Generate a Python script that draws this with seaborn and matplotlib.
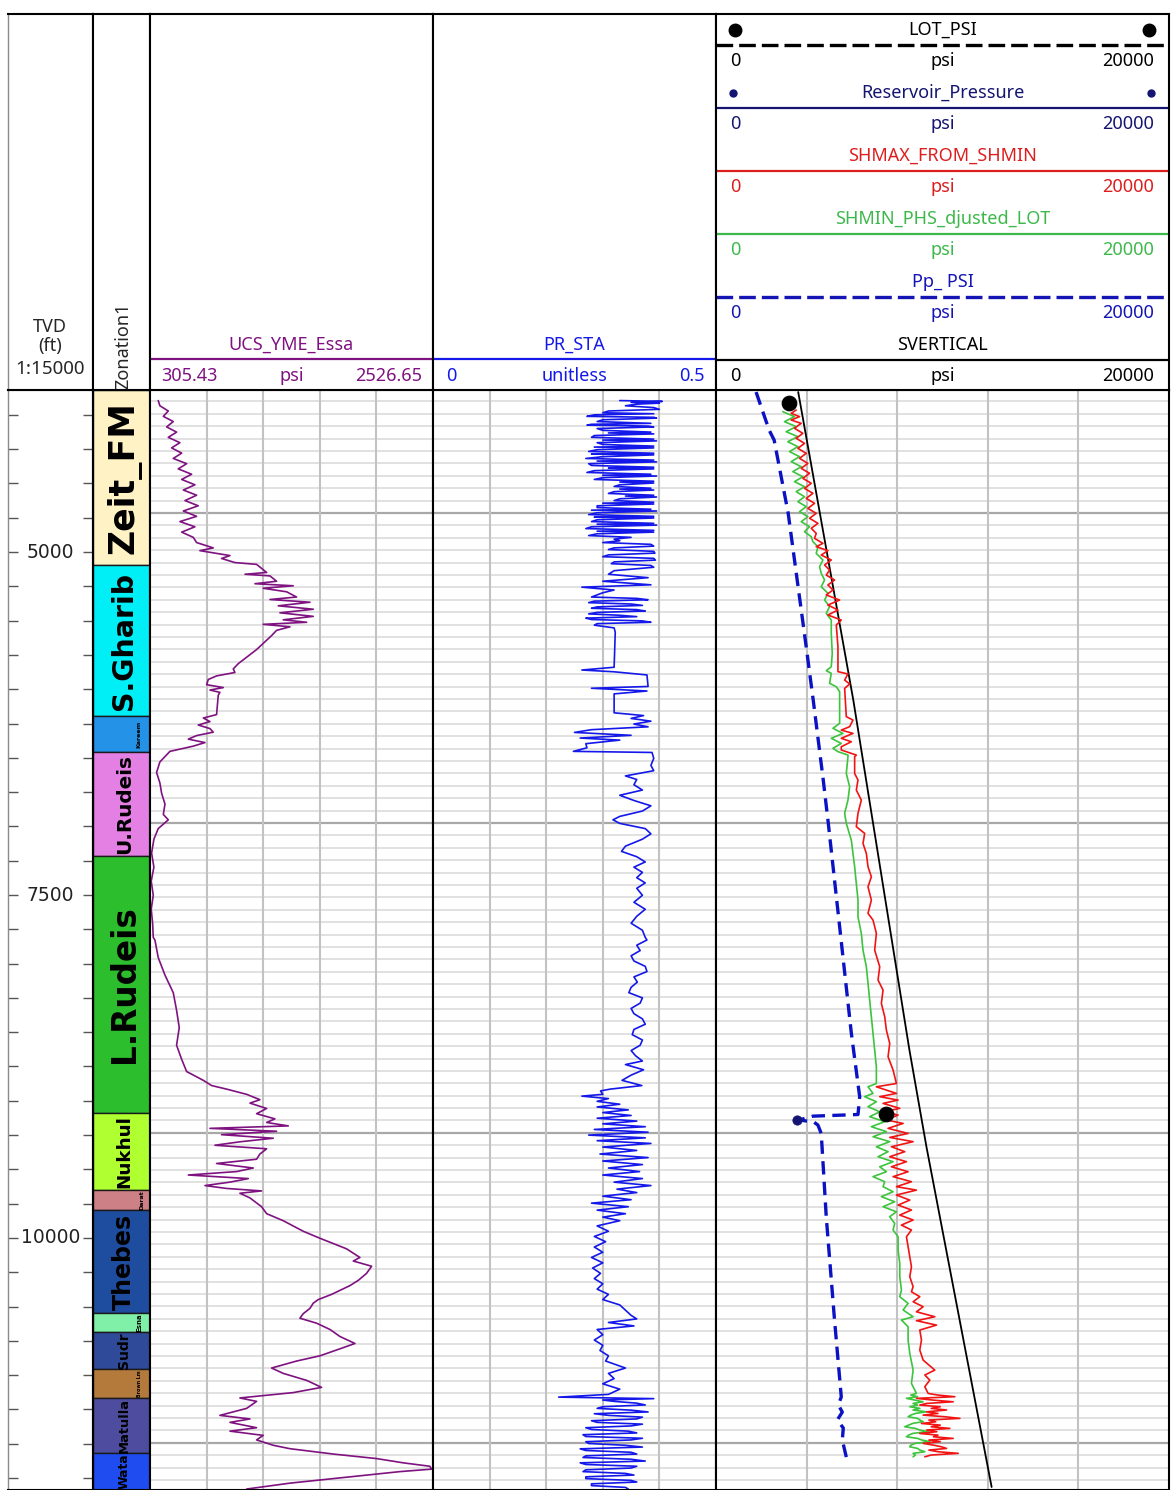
import numpy as np
import pandas as pd
import matplotlib
matplotlib.use("Agg")
import matplotlib.pyplot as plt
import seaborn as sns

# ---------------- data ----------------
DEPTH_TOP, DEPTH_BOT = 3819, 11837
depth_labels = [5000, 7500, 10000]

zone_names = ["Zeit_FM", "S.Gharib", "Kareem", "U.Rudeis", "L.Rudeis", "Nukhul", "Darat",
              "Thebes", "Esna", "Sudr", "Brown Lm", "Matulla", "Wata"]
zone_tops = [3819, 5095, 6195, 6458, 7216, 9089, 9650, 9796, 10547, 10685, 10955, 11166, 11567]
zone_colors = ["#FFF3C6", "#00EEF6", "#2492E6", "#E47FE4", "#2DBE2D", "#B0FF30", "#CD8085",
               "#1E4DA0", "#80F0A8", "#2F4A99", "#B47A3C", "#4E4C9E", "#1E4CF0"]

ucs_depth = [3896, 3934, 3972, 4011, 4049, 4088, 4126, 4164, 4203, 4241,
             4279, 4318, 4356, 4394, 4433, 4471, 4510, 4548, 4586, 4625,
             4663, 4701, 4740, 4778, 4816, 4855, 4893, 4931, 4970, 4990,
             5008, 5026, 5047, 5077, 5090, 5149, 5162, 5174, 5213, 5231,
             5246, 5264, 5290, 5328, 5346, 5366, 5392, 5417, 5443, 5469,
             5494, 5512, 5527, 5545, 5571, 5609, 5711, 5814, 5852, 5878,
             5903, 5929, 5967, 5988, 6006, 6023, 6044, 6185, 6210, 6236,
             6261, 6287, 6313, 6338, 6364, 6389, 6415, 6453, 6530, 6607,
             6683, 6760, 6837, 6913, 6952, 7016, 7093, 7195, 7297, 7399,
             7502, 7604, 7706, 7809,
             7828, 7956, 8084, 8212, 8340, 8467, 8595, 8698, 8787, 8851,
             8889, 8915, 8953, 8992, 9017, 9056, 9094, 9132, 9158, 9183,
             9201, 9222, 9247, 9273, 9299, 9324, 9350, 9388, 9426, 9457,
             9490, 9516, 9541, 9567, 9593, 9618, 9639, 9657, 9674, 9708,
             9772, 9823, 9874, 9951, 10002, 10079, 10142, 10168, 10206, 10258,
             10309, 10347, 10411, 10449, 10475, 10513, 10552, 10585, 10621, 10667,
             10718, 10769, 10808, 10859, 10897, 10948, 10987, 11038, 11089, 11127,
             11166, 11191, 11242, 11293, 11319, 11344, 11383, 11408, 11439, 11472,
             11511, 11536, 11575, 11608, 11639, 11664, 11685, 11703, 11741, 11787,
             11830]
ucs_psi = [370, 383, 449, 410, 488, 436, 514, 449, 540, 475,
           554, 488, 593, 527, 632, 554, 658, 567, 671, 580,
           684, 567, 671, 540, 658, 554, 645, 671, 802, 697,
           815, 933, 867, 972, 1142, 1221, 1051, 1247, 1299, 1129,
           1430, 1194, 1378, 1456, 1247, 1561, 1312, 1587, 1325, 1587,
           1351, 1535, 1194, 1404, 1299, 1260, 1142, 998, 959, 972,
           828, 763, 750, 881, 776, 854, 841, 828, 724, 776,
           684, 776, 802, 671, 606, 737, 645, 462, 383, 357,
           383, 397, 423, 410, 449, 370, 336, 318, 336, 315,
           331, 315, 326, 331,
           344, 370, 423, 488, 514, 535, 514, 554, 593, 724,
           789, 907, 1064, 1168, 1090, 1221, 1142, 1286, 1221, 1391,
           776, 1299, 867, 1273, 1011, 815, 1221, 1168, 1142, 828,
           1116, 985, 606, 1077, 933, 737, 907, 1181, 1011, 1090,
           1181, 1221, 1351, 1508, 1639, 1848, 1953, 1901, 2045, 2005,
           1940, 1875, 1731, 1626, 1587, 1561, 1508, 1482, 1613, 1718,
           1796, 1914, 1796, 1639, 1456, 1260, 1351, 1535, 1652, 1430,
           1011, 1142, 1064, 854, 1090, 933, 1142, 933, 1194, 1142,
           1273, 1404, 1744, 2084, 2293, 2502, 2515, 2267, 1875, 1404,
           1064]

# Poisson's ratio, upper dense section (Zeit_FM)
pr_depth_top = [3896, 3902, 3909, 3915, 3922, 3934, 3947, 3960, 3972, 3985,
                3992, 4000, 4011, 4018, 4024, 4036, 4049, 4062, 4069, 4075,
                4082, 4088, 4100, 4113, 4126, 4132, 4139, 4151, 4164, 4177,
                4184, 4190, 4203, 4216, 4228, 4235, 4241, 4254, 4267, 4280,
                4286, 4292, 4305, 4318, 4330, 4337, 4343, 4356, 4369, 4382,
                4388, 4394, 4407, 4420, 4433, 4440, 4446, 4458, 4471, 4484,
                4490, 4497, 4510, 4522, 4535, 4541, 4548, 4560, 4573, 4586,
                4592, 4599, 4612, 4625, 4637, 4644, 4650, 4663, 4676, 4688,
                4695, 4701, 4714, 4727, 4740, 4746, 4752, 4765, 4778, 4791,
                4797, 4804, 4816, 4829, 4842, 4848, 4855, 4867, 4880, 4893,
                4906, 4918, 4931, 4944, 4957, 4970, 4982, 4995, 5008, 5021,
                5034, 5046, 5059, 5072, 5085, 5098, 5111]
pr_val_top = [.33, .405, .35, .40, .36, .34, .39, .40, .31, .30,
              .39, .285, .272, .39, .395, .30, .29, .385, .28, .272,
              .38, .39, .29, .30, .385, .31, .39, .285, .28, .39,
              .30, .395, .29, .30, .39, .285, .39, .29, .275, .39,
              .28, .39, .30, .27, .39, .29, .395, .275, .28, .39,
              .31, .39, .285, .272, .385, .30, .395, .30, .285, .39,
              .33, .39, .33, .32, .385, .33, .39, .32, .31, .39,
              .34, .395, .33, .32, .39, .30, .39, .29, .29, .385,
              .28, .395, .29, .275, .39, .285, .39, .29, .28, .39,
              .29, .395, .28, .27, .39, .29, .39, .29, .275, .35,
              .32, .33, .30, .385, .39, .32, .31, .39, .392, .31,
              .30, .39, .393, .32, .315, .385, .39]
# Poisson's ratio, middle section (S.Gharib to L.Rudeis)
pr_depth_mid = [5136, 5162, 5187, 5213, 5239, 5256, 5277, 5297, 5328, 5338,
                5348, 5358, 5369, 5379, 5389, 5400, 5410, 5420, 5430, 5440,
                5451, 5461, 5471, 5482, 5492, 5502, 5512, 5522, 5533, 5553,
                5584, 5840, 5860, 5873, 5896, 5980, 5993, 6013, 6034, 6172,
                6192, 6213, 6233, 6254, 6274, 6295, 6315, 6336, 6356, 6371,
                6397, 6427, 6453, 6461, 6504, 6555, 6594, 6632, 6658, 6696,
                6735, 6773, 6811, 6850, 6888, 6927, 6952, 6978, 7016, 7054,
                7093, 7144, 7182, 7221, 7259, 7297, 7335, 7374, 7412, 7451,
                7502, 7553, 7604, 7655, 7706, 7757, 7809,
                7828, 7866, 7905, 7943, 7981, 8020, 8058, 8097, 8135, 8173,
                8212, 8250, 8288, 8327, 8365, 8403, 8442, 8480, 8518, 8557,
                8595, 8634, 8672, 8710, 8736, 8774, 8813, 8851, 8889, 8915,
                8928, 8953, 8966, 8984, 9004, 9025, 9045, 9066, 9086, 9107,
                9127, 9148, 9168, 9189, 9209, 9229, 9250, 9270, 9291, 9311,
                9337, 9362, 9388, 9414, 9439, 9465, 9490, 9516, 9541, 9567,
                9593, 9618, 9644, 9669, 9695, 9721, 9746, 9772, 9797, 9823,
                9848, 9874, 9912, 9951, 9989, 10027, 10066, 10104, 10142, 10181,
                10219, 10258, 10296, 10334, 10373, 10411, 10449, 10488, 10526, 10564,
                10590, 10616, 10641, 10667, 10705, 10744, 10782, 10820, 10859, 10897,
                10948, 10987, 11025, 11063, 11102, 11140, 11160]
pr_val_mid = [.32, .31, .38, .30, .385, .263, .32, .30, .28, .36,
              .38, .285, .275, .35, .37, .29, .28, .36, .375, .29,
              .275, .33, .36, .27, .28, .37, .385, .29, .285, .32,
              .322, .32, .263, .32, .378, .38, .28, .378, .32, .32,
              .372, .35, .385, .355, .38, .28, .25, .35, .26, .33,
              .27, .272, .248, .387, .39, .385, .39, .34, .36, .355,
              .37, .33, .355, .385, .37, .33, .318, .33, .375, .385,
              .37, .34, .333, .36, .375, .355, .37, .36, .375, .36,
              .37, .355, .375, .36, .35, .37, .375,
              .378, .360, .366, .350, .355, .375, .378, .355, .361, .350,
              .346, .370, .366, .350, .355, .370, .375, .355, .352, .370,
              .366, .350, .358, .370, .340, .372, .350, .334, .369, .313,
              .296, .300, .263, .310, .290, .330, .290, .345, .300, .350,
              .290, .360, .300, .375, .285, .380, .275, .375, .290, .385,
              .300, .360, .295, .380, .300, .370, .310, .365, .300, .370,
              .320, .385, .325, .360, .300, .350, .280, .345, .290, .340,
              .300, .330, .290, .310, .285, .305, .285, .300, .280, .300,
              .282, .296, .285, .300, .290, .310, .300, .330, .340, .350,
              .360, .310, .355, .290, .300, .285, .300, .295, .310, .305,
              .340, .310, .320, .300, .330, .310, .222]
# Poisson's ratio, lower dense section (Sudr to Wata)
pr_depth_bot = [11171, 11181, 11191, 11204, 11217, 11230, 11242, 11255, 11268, 11281,
                11293, 11306, 11319, 11332, 11344, 11357, 11370, 11383, 11396, 11408,
                11421, 11434, 11447, 11460, 11472, 11485, 11498, 11511, 11524, 11537,
                11549, 11562, 11575, 11588, 11600, 11613, 11626, 11639, 11651, 11664,
                11677, 11690, 11703, 11716, 11728, 11741, 11754, 11767, 11779, 11792,
                11805, 11818, 11830]
pr_val_bot = [.39, .30, .32, .36, .375, .30, .29, .35, .38, .285,
              .31, .37, .36, .28, .29, .37, .35, .27, .28, .345,
              .36, .265, .27, .37, .35, .27, .275, .34, .37, .26,
              .27, .35, .36, .27, .265, .35, .375, .26, .27, .36,
              .35, .27, .265, .34, .355, .27, .27, .35, .36, .28,
              .28, .34, .345]

sv_depth = [3834, 6079, 8630, 9337, 11815]
sv_psi = [3629, 6062, 8540, 9293, 12169]

pp_depth = [3834, 4111, 4184, 4716, 5692, 6079, 6662, 6975, 8506, 8970, 9100, 9112, 9140,
            9155, 9177, 9238, 9847, 10576, 11159, 11217, 11269, 11327, 11385, 11473, 11597]
pp_psi = [1770, 2345, 2567, 3186, 3983, 4292, 4735, 4956, 5974, 6343, 6270, 4280, 3680,
          4320, 4500, 4646, 4868, 5222, 5531, 5399, 5576, 5354, 5620, 5576, 5753]

shmax_depth = [3965, 3989, 4013, 4038, 4062, 4098, 4135, 4171, 4208, 4244,
               4281, 4317, 4354, 4390, 4426, 4463, 4499, 4536, 4572, 4609,
               4645, 4682, 4718, 4754, 4791, 4827, 4864, 4900, 4937, 4961,
               4990, 5022, 5058, 5095, 5131, 5168, 5204, 5240, 5277, 5313,
               5350, 5386, 5423, 5459, 5496, 5532, 5690, 5872, 5889, 5933,
               5962, 5994, 6200, 6225, 6273, 6298, 6322, 6358, 6383, 6419,
               6443, 6480, 6492, 6614, 6662, 6735, 6808, 6905, 7002, 7051,
               7124, 7197, 7294, 7367, 7440, 7537, 7634, 7683, 7780, 7902,
               8023, 8120, 8193, 8290, 8388, 8485, 8582, 8679, 8776, 8874,
               8898, 8946, 8970, 8995, 9019, 9055, 9080, 9104, 9140, 9165,
               9201, 9238, 9267, 9298, 9335, 9371, 9408, 9444, 9481, 9517,
               9553, 9590, 9626, 9651, 9687, 9724, 9760, 9796, 9833, 9869,
               9906, 9942, 9991, 10064, 10137, 10210, 10282, 10355, 10392, 10428,
               10465, 10501, 10538, 10574, 10603, 10635, 10671, 10744, 10817, 10890,
               10963, 10999, 11036, 11084]
shmax_psi = [3540, 3319, 3688, 3319, 3761, 3466, 3835, 3540, 3909, 3614,
             3983, 3688, 4056, 3761, 4130, 3835, 4204, 3909, 4278, 3983,
             4351, 4056, 4425, 4130, 4499, 4204, 4425, 4351, 4720, 4425,
             4941, 4646, 5089, 4794, 5015, 4868, 5236, 4941, 5163, 4868,
             5458, 4941, 5384, 4941, 5531, 5310, 5384, 5384, 5826, 5679,
             5900, 5679, 5753, 6048, 5900, 5531, 6048, 5531, 5974, 5531,
             5531, 6195, 6121, 6121, 6269, 6195, 6416, 6269, 6195, 6564,
             6490, 6638, 6711, 6859, 6711, 6859, 6711, 6933, 7080, 7006,
             7228, 7154, 7375, 7301, 7449, 7523, 7670, 7596, 7818, 7965,
             7080, 7965, 7228, 8039, 7375, 8113, 7449, 8039, 7523, 8260,
             7596, 8481, 7670, 8703, 7744, 8334, 7670, 8408, 7744, 8481,
             7818, 8629, 7965, 8850, 7965, 8555, 8039, 8629, 8113, 8703,
             8186, 8629, 8408, 8481, 8555, 8629, 8555, 8703, 8629, 8998,
             8703, 9145, 8850, 9661, 8850, 9735, 8998, 9071, 8998, 9145,
             9661, 9219, 9440, 9219]
shmax_depth_bot = [11133, 11145, 11157, 11169, 11182, 11194, 11206, 11218, 11230, 11242,
                   11254, 11267, 11279, 11291, 11303, 11315, 11327, 11340, 11352, 11364,
                   11376, 11388, 11400, 11412, 11425, 11437, 11449, 11461, 11473, 11485,
                   11497, 11510, 11522, 11534, 11546, 11558, 11570, 11582, 11595]
shmax_psi_bot = [9366, 9800, 10546, 8850, 9600, 10473, 9300, 8998, 9900, 9500,
                 10178, 9300, 9800, 9145, 10100, 10768, 9400, 9700, 9071, 9900,
                 9500, 10325, 9300, 9750, 8998, 9800, 9600, 10473, 9400, 9900,
                 9145, 9600, 9950, 10178, 9400, 9800, 10694, 9500, 9219]

shmin_depth = [3977, 4013, 4050, 4086, 4123, 4159, 4196, 4232, 4268, 4305,
               4341, 4378, 4414, 4451, 4487, 4524, 4560, 4597, 4633, 4669,
               4706, 4742, 4779, 4815, 4852, 4888, 4925, 4961, 5010, 5058,
               5107, 5155, 5204, 5253, 5301, 5350, 5398, 5447, 5496, 5593,
               5739, 5836, 5865, 5884, 5957, 5982, 6018, 6249, 6285, 6322,
               6358, 6395, 6431, 6455, 6480, 6492, 6614, 6711, 6808, 6905,
               6978, 7100, 7197, 7294, 7416, 7537, 7659, 7780, 7902, 8023,
               8145, 8266, 8388, 8509, 8631, 8752, 8874, 8898, 8946, 8970,
               9007, 9043, 9080, 9116, 9152, 9189, 9225, 9262, 9298, 9335,
               9371, 9408, 9444, 9481, 9517, 9553, 9590, 9626, 9663, 9699,
               9736, 9772, 9809, 9845, 9894, 9942, 9991, 10088, 10185, 10282,
               10380, 10428, 10477, 10525, 10574, 10598, 10647, 10744, 10841, 10963,
               11060]
shmin_psi = [2950, 3466, 3024, 3540, 3098, 3614, 3171, 3614, 3245, 3688,
             3319, 3761, 3393, 3835, 3466, 3909, 3540, 3909, 3614, 3983,
             3688, 4056, 3761, 4130, 3909, 4204, 4278, 4499, 4425, 4720,
             4573, 4646, 4794, 4646, 4941, 4794, 5015, 4868, 5089, 5089,
             5133, 5089, 4868, 5089, 5015, 5310, 5458, 5458, 5163, 5605,
             5089, 5531, 5163, 5384, 5826, 5826, 5753, 5900, 5826, 5679,
             5753, 5974, 6048, 6121, 6195, 6269, 6269, 6416, 6490, 6638,
             6711, 6785, 6859, 6933, 7006, 7080, 7080, 6711, 6933, 6564,
             7080, 6711, 7228, 6785, 7449, 6859, 7523, 6933, 7670, 7080,
             7596, 7154, 7818, 7228, 7523, 6933, 7449, 7375, 7818, 7301,
             7891, 7375, 7965, 7670, 7891, 7818, 8039, 8039, 8113, 8113,
             8186, 8113, 8481, 8260, 8703, 8186, 8481, 8481, 8555, 8703,
             8629]
shmin_depth_bot = [11133, 11145, 11157, 11169, 11182, 11194, 11206, 11218, 11230, 11242,
                   11254, 11267, 11279, 11291, 11303, 11315, 11327, 11339, 11351, 11364,
                   11376, 11388, 11400, 11412, 11424, 11437, 11449, 11461, 11473, 11485,
                   11497, 11510, 11522, 11534, 11546, 11558, 11570, 11582, 11595]
shmin_psi_bot = [8850, 8600, 8900, 8408, 8800, 9145, 8700, 8900, 8555, 9000,
                 8700, 9292, 8800, 8600, 8481, 8900, 9000, 9145, 8700, 8500,
                 8334, 8800, 9000, 9366, 8700, 8500, 8408, 8900, 9100, 9440,
                 8800, 8600, 8555, 8900, 9000, 9219, 8700, 8800, 8703]

lot_depth = [3914, 9096]
lot_psi = [3230, 7523]
res_depth = [9140]
res_psi = [3584]

UCS_RANGE = (305.43, 2526.65)
PR_RANGE = (0, 0.5)
P_RANGE = (0, 20000)

# ---------------- styling / layout ----------------
sns.set_theme(style="white")
plt.rcParams['font.family'] = ['Noto Sans', 'DejaVu Sans']

W, H = 1171, 1490
fig = plt.figure(figsize=(W / 100, H / 100), dpi=100)
fig.patch.set_facecolor('white')

TOP, MID, BOT = 14, 390, 1490
XB = [8, 93, 150, 433, 716, 1169]

C_UCS = '#7E1280'
C_PR = '#1418E8'
C_RED = '#F01414'
C_GREEN = '#3CC43C'
C_PP = '#0A12C4'
C_NAVY = '#141472'
HFS = 13


def frect(x0, y0, x1, y1):
    return [x0 / W, 1 - y1 / H, (x1 - x0) / W, (y1 - y0) / H]


grid_major = np.array([4716, 6975, 9235, 11494])
grid_step = (grid_major[1] - grid_major[0]) / 25
grid_minor = np.arange(grid_major[0] - 10 * grid_step, DEPTH_BOT, grid_step)


def style_data_ax(ax, xlim):
    ax.set_xlim(*xlim)
    ax.set_ylim(DEPTH_BOT, DEPTH_TOP)
    ax.set_xticks([]); ax.set_yticks([])
    ax.set_xlabel(''); ax.set_ylabel('')
    for d in grid_minor:
        ax.axhline(d, color='#DCDCDC', lw=1.2, zorder=0)
    for d in grid_major:
        ax.axhline(d, color='#A8A8A8', lw=1.6, zorder=0)
    for f in [0.2, 0.4, 0.6, 0.8]:
        ax.axvline(xlim[0] + f * (xlim[1] - xlim[0]), color='#C2C2C2', lw=1.5, zorder=0)
    for s in ax.spines.values():
        s.set_color('black'); s.set_linewidth(1.5)


def hdr_ax(x0, x1):
    ax = fig.add_axes(frect(x0, TOP, x1, MID))
    ax.set_xlim(x0, x1); ax.set_ylim(MID, TOP)
    ax.set_xticks([]); ax.set_yticks([])
    ax.set_facecolor('white')
    for s in ax.spines.values():
        s.set_color('black'); s.set_linewidth(1.5)
    return ax


def scale_row(ax, x0, x1, y, left, unit, right, color, lpad=14, rpad=14):
    ax.text(x0 + lpad, y, left, ha='left', va='center', fontsize=HFS, color=color)
    ax.text((x0 + x1) / 2, y, unit, ha='center', va='center', fontsize=HFS, color=color)
    ax.text(x1 - rpad, y, right, ha='right', va='center', fontsize=HFS, color=color)


def log_line(ax, xs, ys, color, lw):
    df = pd.DataFrame({'depth': ys, 'value': xs})
    sns.lineplot(data=df, x='value', y='depth', orient='y', sort=False, estimator=None,
                 ax=ax, color=color, linewidth=lw)
    return ax.lines[-1]


# ---------- depth track ----------
axd = fig.add_axes(frect(XB[0], MID, XB[1], BOT))
axd.set_ylim(DEPTH_BOT, DEPTH_TOP); axd.set_xlim(0, 1)
axd.set_xticks([])
axd.set_yticks(np.arange(4000, DEPTH_BOT, 250))
axd.tick_params(axis='y', left=True, right=True, direction='in', length=7, width=1,
                color='#555555', labelleft=False, labelright=False)
for d in depth_labels:
    axd.text(0.5, d, f"{d}", ha='center', va='center', fontsize=13.5,
             family='DejaVu Sans', color='#222222')
for k, s in axd.spines.items():
    s.set_color('black'); s.set_linewidth(1.5)
axd.spines['left'].set_color('#8A8A8A'); axd.spines['left'].set_linewidth(1.0)

h = hdr_ax(XB[0], XB[1])
h.spines['left'].set_color('#8A8A8A'); h.spines['left'].set_linewidth(1.0)
h.text(50, 327, "TVD", ha='center', va='center', fontsize=HFS)
h.text(50, 346, "(ft)", ha='center', va='center', fontsize=HFS)
h.text(50, 369, "1:15000", ha='center', va='center', fontsize=13.5, clip_on=True)

# ---------- zonation track ----------
axz = fig.add_axes(frect(XB[1], MID, XB[2], BOT))
zone_bots = zone_tops[1:] + [DEPTH_BOT]
mids = [(t + b) / 2 for t, b in zip(zone_tops, zone_bots)]
hts = [b - t for t, b in zip(zone_tops, zone_bots)]
axz.barh(y=mids, width=1, height=hts, left=0, color=zone_colors,
         edgecolor='#1a1a1a', linewidth=1.0)
axz.set_xlim(0, 1); axz.set_ylim(DEPTH_BOT, DEPTH_TOP)
axz.set_xticks([]); axz.set_yticks([])
for s in axz.spines.values():
    s.set_color('black'); s.set_linewidth(1.5)
label_size = [25, 20.4, 4.5, 14.4, 23.5, 13.2, 4.5, 17, 5, 10, 3.4, 9.4, 8.8]
label_x = [0.55, 0.55, 0.80, 0.55, 0.55, 0.55, 0.86, 0.55, 0.82, 0.55, 0.82, 0.55, 0.55]
for name, m, fs, lx in zip(zone_names, mids, label_size, label_x):
    axz.text(lx, m, name, rotation=90, ha='center', va='center', fontsize=fs,
             fontweight='bold', family='DejaVu Sans', color='black', clip_on=True)

h = hdr_ax(XB[1], XB[2])
h.text(123, 389, "Zonation1", rotation=90, ha='center', va='bottom', fontsize=HFS)

# ---------- UCS track ----------
axu = fig.add_axes(frect(XB[2], MID, XB[3], BOT))
log_line(axu, ucs_psi, ucs_depth, C_UCS, 1.2)
style_data_ax(axu, UCS_RANGE)

h = hdr_ax(XB[2], XB[3])
h.text((XB[2] + XB[3]) / 2, 345, "UCS_YME_Essa", ha='center', va='center', fontsize=HFS, color=C_UCS)
h.plot([XB[2], XB[3]], [359, 359], color=C_UCS, lw=1.6)
scale_row(h, XB[2], XB[3], 376, "305.43", "psi", "2526.65", C_UCS, lpad=11, rpad=11)

# ---------- PR track ----------
axp = fig.add_axes(frect(XB[3], MID, XB[4], BOT))
log_line(axp, pr_val_top + pr_val_mid + pr_val_bot,
         pr_depth_top + pr_depth_mid + pr_depth_bot, C_PR, 1.2)
style_data_ax(axp, PR_RANGE)

h = hdr_ax(XB[3], XB[4])
h.text((XB[3] + XB[4]) / 2, 345, "PR_STA", ha='center', va='center', fontsize=HFS, color=C_PR)
h.plot([XB[3], XB[4]], [359, 359], color=C_PR, lw=1.6)
scale_row(h, XB[3], XB[4], 376, "0", "unitless", "0.5", C_PR, lpad=13, rpad=11)

# ---------- pressure track ----------
axs = fig.add_axes(frect(XB[4], MID, XB[5], BOT))
log_line(axs, sv_psi, sv_depth, 'black', 1.3)
ln = log_line(axs, pp_psi, pp_depth, C_PP, 2.4)
ln.set_linestyle((0, (4, 2.2)))
log_line(axs, shmin_psi + shmin_psi_bot, shmin_depth + shmin_depth_bot, C_GREEN, 1.2)
log_line(axs, shmax_psi + shmax_psi_bot, shmax_depth + shmax_depth_bot, C_RED, 1.2)
sns.scatterplot(x=res_psi, y=res_depth, ax=axs, s=45, color=C_NAVY, edgecolor=C_NAVY, zorder=6)
sns.scatterplot(x=lot_psi, y=lot_depth, ax=axs, s=110, color='black', edgecolor='black', zorder=7)
style_data_ax(axs, P_RANGE)

h = hdr_ax(XB[4], XB[5])
rows = [("LOT_PSI", 'black', 'dash'),
        ("Reservoir_Pressure", C_NAVY, 'solid'),
        ("SHMAX_FROM_SHMIN", '#DC1E1E', 'solid'),
        ("SHMIN_PHS_djusted_LOT", '#3DB84A', 'solid'),
        ("Pp_ PSI", '#1515B5', 'dash'),
        ("SVERTICAL", 'black', 'solid')]
xm = (XB[4] + XB[5]) / 2
for i, (name, col, ls) in enumerate(rows):
    yt = 30 + 63 * i
    h.text(xm, yt, name, ha='center', va='center', fontsize=HFS, color=col)
    if ls == 'dash':
        h.plot([XB[4], XB[5]], [yt + 15, yt + 15], color=col, lw=2.4,
               linestyle=(0, (5, 1.8)), solid_capstyle='butt')
    else:
        h.plot([XB[4], XB[5]], [yt + 15, yt + 15], color=col, lw=1.6)
    scale_row(h, XB[4], XB[5], yt + 31, "0", "psi", "20000", col, lpad=14, rpad=15)
h.plot([735, 1149], [30, 30], linestyle='none', marker='o', markersize=9, color='black')
h.plot([733, 1151], [93, 93], linestyle='none', marker='o', markersize=5, color=C_NAVY)

fig.savefig("out.png", dpi=100, facecolor='white')
